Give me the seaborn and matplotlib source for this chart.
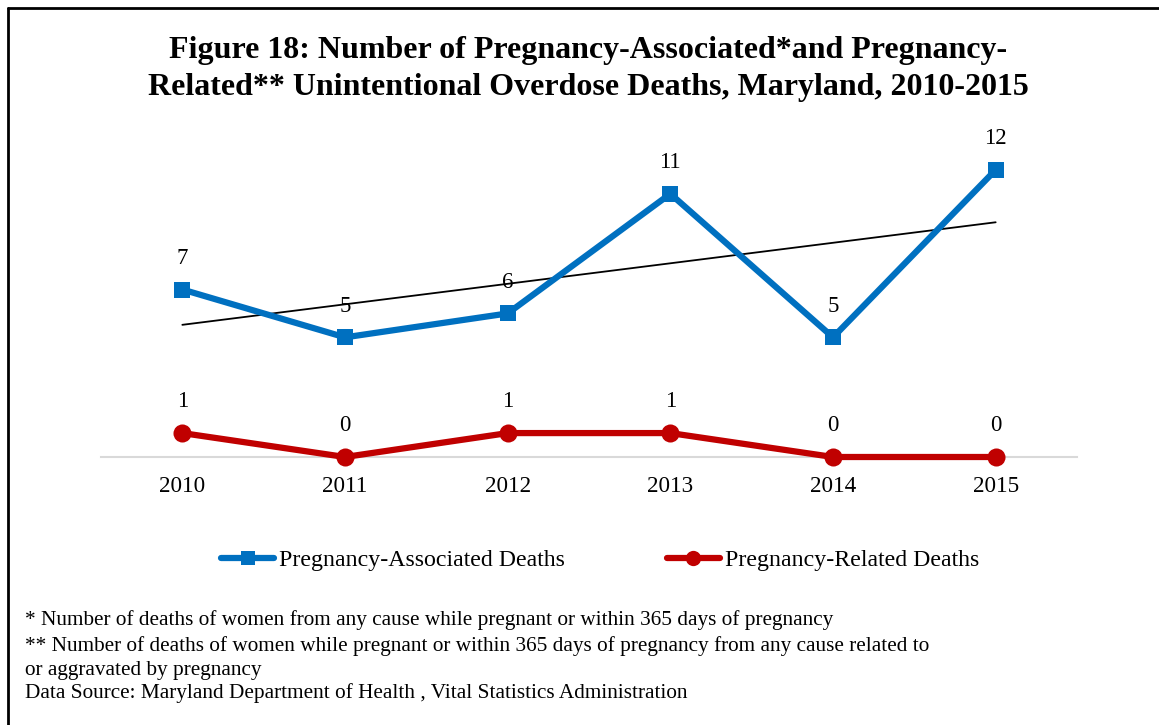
import numpy as np
import pandas as pd
import matplotlib
matplotlib.use("Agg")
import matplotlib.pyplot as plt
import seaborn as sns
from matplotlib.lines import Line2D

years = ["2010", "2011", "2012", "2013", "2014", "2015"]
assoc = [7, 5, 6, 11, 5, 12]
related = [1, 0, 1, 1, 0, 0]
series_names = ["Pregnancy-Associated Deaths", "Pregnancy-Related Deaths"]
title = "Figure 18: Number of Pregnancy-Associated*and Pregnancy-\nRelated** Unintentional Overdose Deaths, Maryland, 2010-2015"
notes = [
    "* Number of deaths of women from any cause while pregnant or within 365 days of pregnancy",
    "** Number of deaths of women while pregnant or within 365 days of pregnancy from any cause related to",
    "or aggravated by pregnancy",
    "Data Source: Maryland Department of Health , Vital Statistics Administration",
]

sns.set_theme(style="white")
plt.rcParams["font.family"] = ["Liberation Serif", "DejaVu Serif"]
plt.rcParams["text.color"] = "black"
plt.rcParams["xtick.color"] = "black"

W, H = 1159, 725
fig = plt.figure(figsize=(W / 100, H / 100), dpi=100)
ax = fig.add_axes([101 / W, 1 - 457 / H, (1077 - 101) / W, (457 - 122) / H])

df = pd.DataFrame({"x": np.arange(len(years)), "year": years,
                   "assoc": assoc, "related": related})
blue = "#0070C0"
red = "#C00000"

sns.lineplot(data=df, x="x", y="assoc", ax=ax, color=blue, lw=4.5,
             marker="s", markersize=12, markeredgewidth=0, clip_on=False)
sns.lineplot(data=df, x="x", y="related", ax=ax, color=red, lw=4.5,
             marker="o", markersize=13, markeredgewidth=0, clip_on=False)

# linear trendline of pregnancy-associated
coef = np.polyfit(df["x"], df["assoc"], 1)
ax.plot(df["x"], np.polyval(coef, df["x"]), color="black", lw=1.3, zorder=1)

for xi, v in zip(df["x"], assoc):
    ax.annotate(str(v), (xi, v), xytext=(0, 15), textcoords="offset points",
                ha="center", va="bottom", fontsize=16.5)
for xi, v in zip(df["x"], related):
    ax.annotate(str(v), (xi, v), xytext=(0, 15), textcoords="offset points",
                ha="center", va="bottom", fontsize=16.5)

ax.set_xlim(-0.5, 5.5)
ax.set_ylim(0, 14)
ax.set_xticks(df["x"])
ax.set_xticklabels(years, fontsize=16.7)
ax.set_yticks([])
ax.set_xlabel("")
ax.set_ylabel("")
ax.tick_params(axis="x", length=0, pad=14, colors="black")
for s in ["top", "right", "left"]:
    ax.spines[s].set_visible(False)
ax.spines["bottom"].set_color("#D9D9D9")
ax.spines["bottom"].set_linewidth(1.5)
ax.spines["bottom"].set_zorder(0)

handles = [
    Line2D([0], [0], color=blue, lw=4.5, marker="s", markersize=10, markeredgewidth=0),
    Line2D([0], [0], color=red, lw=4.5, marker="o", markersize=11, markeredgewidth=0),
]
fig.legend(handles, series_names, loc="center", bbox_to_anchor=(600 / W, 1 - 560 / H),
           ncol=2, frameon=False, fontsize=17.2, handlelength=2.2, handletextpad=0.2,
           columnspacing=4.3)

fig.text(588 / W, 1 - 69 / H, title, ha="center", va="center", fontsize=23,
         fontweight="bold", linespacing=1.38)

for i, line in enumerate(notes):
    fig.text(25 / W, 1 - [620, 646, 670, 693][i] / H, line, ha="left", va="center",
             fontsize=15.3)

# figure frame (top and left edges visible)
fig.add_artist(Line2D([8 / W, 8 / W], [0, 1 - 8 / H], color="black", lw=2,
                      transform=fig.transFigure))
fig.add_artist(Line2D([8 / W, 1], [1 - 8 / H, 1 - 8 / H], color="black", lw=2,
                      transform=fig.transFigure))

fig.savefig("out.png", dpi=100)
